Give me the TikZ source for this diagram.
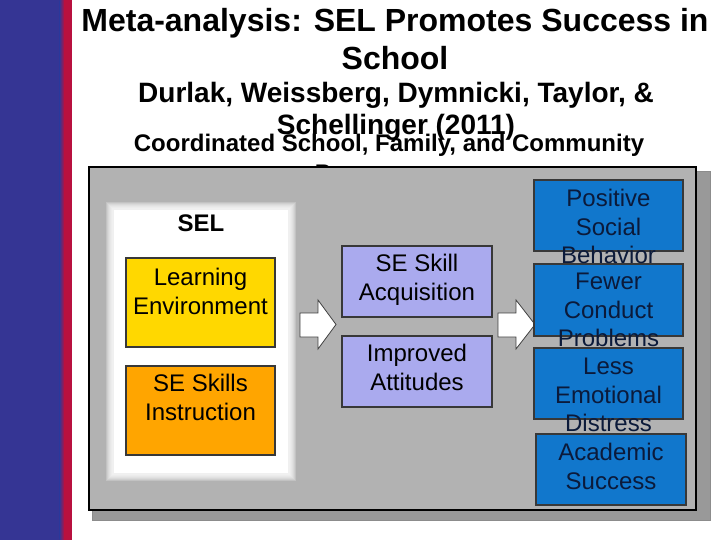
\documentclass[tikz,border=0pt]{standalone}
\usepackage{fontspec}
\setmainfont{Liberation Sans}
\definecolor{stripblue}{HTML}{353594}
\definecolor{stripred}{HTML}{B8103F}
\definecolor{panelgray}{HTML}{B2B2B2}
\definecolor{shadowgray}{HTML}{999999}
\definecolor{envyellow}{HTML}{FFD800}
\definecolor{skillorange}{HTML}{FFA500}
\definecolor{lav}{HTML}{AAAAEE}
\definecolor{outblue}{HTML}{1177CC}
\definecolor{navytext}{HTML}{0B1A3A}
\tikzset{
  titlefont/.style={font=\bfseries\fontsize{32}{38.4}\selectfont, inner sep=0pt, anchor=base},
  subfont/.style={font=\bfseries\fontsize{28}{30}\selectfont, inner sep=0pt, anchor=base},
  coordfont/.style={font=\bfseries\fontsize{24}{29}\selectfont, inner sep=0pt, anchor=base},
  bevelbox/.style={fill=#1, draw=black!78, line width=1.3pt, inner sep=0pt, outer sep=0pt, anchor=north west},
  boxtext/.style={font=\fontsize{24}{28.5}\selectfont, align=center, inner sep=0pt, anchor=north},
  bluetext/.style={boxtext, text=navytext},
  blockarrow/.style={fill=white, draw=black!75, line width=0.8pt, line join=miter},
}
\begin{document}
\begin{tikzpicture}[x=1pt,y=-1pt]
\useasboundingbox (0,0) rectangle (720,540);
\fill[white] (0,0) rectangle (720,540);
% side strip
\fill[stripblue] (0,0) rectangle (60,540);
\shade[left color=stripblue, right color=stripred] (59.5,0) rectangle (64.5,540);
\fill[stripred] (64,0) rectangle (72,540);
% titles
\node[titlefont] (t1) at (395,32) {Meta-analysis: SEL Promotes Success in};
\node[titlefont] (t2) at (395,70) {School};
\node[subfont] (s1) at (396,103) {Durlak, Weissberg, Dymnicki, Taylor, \&};
\node[subfont] (s2) at (396,135) {Schellinger (2011)};
\node[coordfont] (c1) at (389,152) {Coordinated School, Family, and Community};
\node[coordfont] (c2) at (371,181.5) {Programs};
% panel with shadow
\fill[shadowgray, draw=black!45, line width=0.6pt] (92,171) rectangle (710,520);
\node[fill=panelgray, draw=black, line width=1.5pt, inner sep=0pt, outer sep=0pt,
      minimum width=607pt, minimum height=343pt, anchor=north west] (panel) at (89,167) {};
% SEL glowing white area
\foreach \d in {6,5,4,3,2,1,0} {
  \fill[white, opacity=0.22] (112-\d,208-\d) rectangle (290+\d,475+\d);
}
\fill[white] (114,210) rectangle (288,473);
\node[font=\bfseries\fontsize{24}{28}\selectfont, inner sep=0pt, anchor=base] (sel) at (201,231.5) {SEL};
% left boxes
\node[bevelbox=envyellow, minimum width=149pt, minimum height=89pt] (learn) at (126,258) {};
\node[boxtext] (learnT) at (200.5,268) {Learning\\Environment};
\node[bevelbox=skillorange, minimum width=149pt, minimum height=89pt] (instr) at (126,366) {};
\node[boxtext] (instrT) at (200.5,374) {SE Skills\\Instruction};
% middle boxes
\node[bevelbox=lav, minimum width=150pt, minimum height=71pt] (acq) at (342,246) {};
\node[boxtext] (acqT) at (417,254) {SE Skill\\Acquisition};
\node[bevelbox=lav, minimum width=150pt, minimum height=71pt] (att) at (342,336) {};
\node[boxtext] (attT) at (417,344) {Improved\\Attitudes};
% block arrows
\draw[blockarrow] (300,313) -- (318,313) -- (318,300) -- (336,324.5) -- (318,349) -- (318,337) -- (300,337) -- cycle;
\draw[blockarrow] (498,313) -- (516,313) -- (516,300) -- (535,324.5) -- (516,349) -- (516,337) -- (498,337) -- cycle;
% outcome boxes
\node[bevelbox=outblue, minimum width=149pt, minimum height=71pt] (o1) at (534,180) {};
\node[bevelbox=outblue, minimum width=149pt, minimum height=72pt] (o2) at (534,264) {};
\node[bevelbox=outblue, minimum width=149pt, minimum height=71pt] (o3) at (534,348) {};
\node[bevelbox=outblue, minimum width=150pt, minimum height=71pt] (o4) at (536,434) {};
\node[bluetext] (o1T) at (608.5,189) {Positive\\Social\\Behavior};
\node[bluetext] (o2T) at (608.5,273) {Fewer\\Conduct\\Problems};
\node[bluetext] (o3T) at (608.5,358) {Less\\Emotional\\Distress};
\node[bluetext] (o4T) at (611,443) {Academic\\Success};
\end{tikzpicture}
\end{document}
